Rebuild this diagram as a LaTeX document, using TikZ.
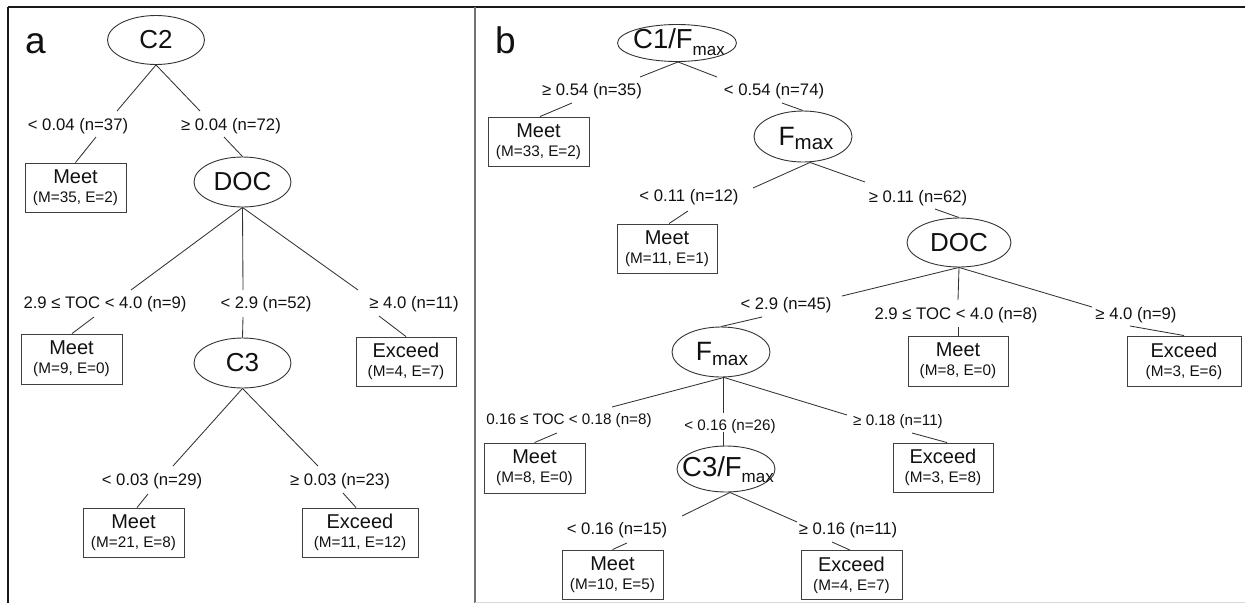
\documentclass[tikz,border=0pt]{standalone}
\usepackage{fontspec}
\setmainfont{Liberation Sans}
\usetikzlibrary{shapes.geometric,calc}
\definecolor{ink}{HTML}{111111}
\tikzset{
  ell/.style={draw=black!80, line width=0.9pt, ellipse, inner sep=0pt},
  etxt/.style={inner sep=0pt, text=ink, font=\fontsize{26}{28}\selectfont},
  leaf/.style={draw=black!75, line width=0.9pt, rectangle, inner sep=0pt, align=center, text=ink, font=\fontsize{20}{19}\selectfont},
  lab/.style={inner sep=0pt, text=ink, font=\fontsize{16.7}{18}\selectfont},
  labs/.style={inner sep=0pt, text=ink, font=\fontsize{15.2}{17}\selectfont},
  conn/.style={draw=black!80, line width=0.85pt},
  panel/.style={inner sep=0pt, text=ink, font=\fontsize{37}{40}\selectfont, anchor=base west},
}
\newcommand{\cnt}[1]{{\fontsize{15.3}{19}\selectfont #1}}
\begin{document}
\begin{tikzpicture}[x=1pt,y=-1pt]
\useasboundingbox (0,0) rectangle (1245,603);
% frame
\draw[black!90, line width=1.4pt] (8,7) -- (1245,7);
\draw[black!90, line width=1.4pt] (8,7) -- (8,603);
\draw[black!55, line width=1.2pt] (475,7) -- (475,603);
\draw[black!15, line width=0.8pt] (475,602) -- (1245,602);

% ===== panel a =====
\node[panel] (pa) at (25,53) {a};
\node[ell, minimum width=97pt, minimum height=49pt] (C2) at (156,40) {};
\node[etxt] (C2t) at (C2) {C2};
\node[ell, minimum width=97pt, minimum height=50pt] (DOCa) at (242.5,182) {};
\node[etxt] (DOCat) at (DOCa) {DOC};
\node[ell, minimum width=97pt, minimum height=50pt] (C3) at (242.5,363) {};
\node[etxt] (C3t) at (C3) {C3};

\node[lab] (la1) at (78,126) {< 0.04 (n=37)};
\node[lab] (la2) at (231,126) {≥ 0.04 (n=72)};
\node[lab] (la3) at (105,304) {2.9 ≤ TOC < 4.0 (n=9)};
\node[lab] (la4) at (266,304) {< 2.9 (n=52)};
\node[lab] (la5) at (414,304) {≥ 4.0 (n=11)};
\node[lab] (la6) at (152,481) {< 0.03 (n=29)};
\node[lab] (la7) at (340,481) {≥ 0.03 (n=23)};

\node[leaf, minimum width=101pt, minimum height=49pt] (A1) at (75.5,187.5) {Meet\\\cnt{(M=35, E=2)}};
\node[leaf, minimum width=101pt, minimum height=50pt] (A2) at (71.5,359) {Meet\\\cnt{(M=9, E=0)}};
\node[leaf, minimum width=100pt, minimum height=49pt] (A3) at (406,361.5) {Exceed\\\cnt{(M=4, E=7)}};
\node[leaf, minimum width=101pt, minimum height=49pt] (A4) at (133.5,532.5) {Meet\\\cnt{(M=21, E=8)}};
\node[leaf, minimum width=116pt, minimum height=49pt] (A5) at (360,532.5) {Exceed\\\cnt{(M=11, E=12)}};

\coordinate (a1u) at (117,111); \coordinate (a1d) at (96,137);
\coordinate (a2u) at (200,111); \coordinate (a2d) at (224,137);
\coordinate (a3u) at (131,290); \coordinate (a3d) at (94,317);
\coordinate (a4u) at (243,290); \coordinate (a4d) at (243,317);
\coordinate (a5u) at (358,290); \coordinate (a5d) at (379,316);
\coordinate (a6u) at (173,466); \coordinate (a6d) at (148,494);
\coordinate (a7u) at (318,466); \coordinate (a7d) at (343,493);

\draw[conn] (C2.south) -- (a1u);  \draw[conn] (a1d) -- (A1.north);
\draw[conn] (C2.south) -- (a2u);  \draw[conn] (a2d) -- (DOCa.north);
\draw[conn] (DOCa.south) -- (a3u); \draw[conn] (a3d) -- ([xshift=0.5pt]A2.north);
\draw[conn] (DOCa.south) -- (a4u); \draw[conn] (a4d) -- (C3.north);
\draw[conn] (DOCa.south) -- (a5u); \draw[conn] (a5d) -- (A3.north);
\draw[conn] (C3.south) -- (a6u);   \draw[conn] (a6d) -- ([xshift=3.5pt]A4.north);
\draw[conn] (C3.south) -- (a7u);   \draw[conn] (a7d) -- ([xshift=-4pt]A5.north);

% ===== panel b =====
\node[panel] (pb) at (495,53) {b};
\node[ell, minimum width=119pt, minimum height=37pt] (C1F) at (677,43) {};
\node[inner sep=0pt, text=ink, font=\fontsize{27.5}{28}\selectfont] (C1Ft) at (679,42) {C1/F{\fontsize{17}{17}\selectfont\raisebox{-7pt}{max}}};
\node[ell, minimum width=98pt, minimum height=51pt] (F1) at (803,136.5) {};
\node[inner sep=0pt, text=ink, font=\fontsize{26.5}{28}\selectfont] (F1t) at (806,138) {F{\fontsize{20.5}{20}\selectfont\raisebox{-4pt}{max}}};
\node[ell, minimum width=104pt, minimum height=49pt] (DOCb) at (959,242.5) {};
\node[etxt] (DOCbt) at (DOCb) {DOC};
\node[ell, minimum width=98pt, minimum height=50pt] (F2) at (721,352) {};
\node[inner sep=0pt, text=ink, font=\fontsize{26.5}{28}\selectfont] (F2t) at (722,354) {F{\fontsize{19}{19}\selectfont\raisebox{-5pt}{max}}};
\node[ell, minimum width=98pt, minimum height=46pt] (C3F) at (726,469) {};
\node[inner sep=0pt, text=ink, font=\fontsize{27.5}{28}\selectfont] (C3Ft) at (728,470) {C3/F{\fontsize{17}{17}\selectfont\raisebox{-6pt}{max}}};

\node[lab] (lb1) at (592,91) {≥ 0.54 (n=35)};
\node[lab] (lb2) at (774,91) {< 0.54 (n=74)};
\node[lab] (lb3) at (689,197) {< 0.11 (n=12)};
\node[lab] (lb4) at (918,198) {≥ 0.11 (n=62)};
\node[lab] (lb5) at (786,305) {< 2.9 (n=45)};
\node[lab] (lb6) at (956,315) {2.9 ≤ TOC < 4.0 (n=8)};
\node[lab] (lb7) at (1136,315) {≥ 4.0 (n=9)};
\node[labs] (lb8) at (569,421) {0.16 ≤ TOC < 0.18 (n=8)};
\node[labs] (lb9) at (730,427) {< 0.16 (n=26)};
\node[labs] (lb10) at (898,422) {≥ 0.18 (n=11)};
\node[lab] (lb11) at (617,530) {< 0.16 (n=15)};
\node[lab] (lb12) at (848,530) {≥ 0.16 (n=11)};

\node[leaf, minimum width=101pt, minimum height=49pt] (B1) at (538.5,141.5) {Meet\\\cnt{(M=33, E=2)}};
\node[leaf, minimum width=100pt, minimum height=49pt] (B2) at (667,248.5) {Meet\\\cnt{(M=11, E=1)}};
\node[leaf, minimum width=100pt, minimum height=50pt] (B3) at (958,361) {Meet\\\cnt{(M=8, E=0)}};
\node[leaf, minimum width=114pt, minimum height=50pt] (B4) at (1184,361) {Exceed\\\cnt{(M=3, E=6)}};
\node[leaf, minimum width=101pt, minimum height=50pt] (B5) at (534.5,468) {Meet\\\cnt{(M=8, E=0)}};
\node[leaf, minimum width=100pt, minimum height=49pt] (B6) at (943,467.5) {Exceed\\\cnt{(M=3, E=8)}};
\node[leaf, minimum width=101pt, minimum height=49pt] (B7) at (612.5,574.5) {Meet\\\cnt{(M=10, E=5)}};
\node[leaf, minimum width=101pt, minimum height=49pt] (B8) at (851.5,575) {Exceed\\\cnt{(M=4, E=7)}};

\coordinate (b1u) at (640,77);  \coordinate (b1d) at (572,103);
\coordinate (b2u) at (717,77);  \coordinate (b2d) at (782,103);
\coordinate (b3u) at (753,188); \coordinate (b3d) at (688,211);
\coordinate (b4u) at (865,182); \coordinate (b4d) at (935,209);
\coordinate (b5u) at (842,296); \coordinate (b5d) at (762,317);
\coordinate (b6u) at (958,300); \coordinate (b6d) at (958,327);
\coordinate (b7u) at (1092,307); \coordinate (b7d) at (1130,326);
\coordinate (b8u) at (612,407); \coordinate (b8d) at (557,433);
\coordinate (b9u) at (723,413); \coordinate (b9d) at (723,432);
\coordinate (b10u) at (847,415); \coordinate (b10d) at (912,433);
\coordinate (b11u) at (682,516); \coordinate (b11d) at (627,543);
\coordinate (b12u) at (797,522); \coordinate (b12d) at (832,542);

\draw[conn] ([xshift=1pt]C1F.south) -- (b1u);  \draw[conn] (b1d) -- ([xshift=1.5pt]B1.north);
\draw[conn] ([xshift=1pt]C1F.south) -- (b2u);  \draw[conn] (b2d) -- (F1.north);
\draw[conn] ([xshift=7pt]F1.south) -- (b3u);   \draw[conn] (b3d) -- ([xshift=2pt]B2.north);
\draw[conn] ([xshift=7pt]F1.south) -- (b4u);   \draw[conn] (b4d) -- (DOCb.north);
\draw[conn] (DOCb.south) -- (b5u);  \draw[conn] (b5d) -- (F2.north);
\draw[conn] (DOCb.south) -- (b6u);  \draw[conn] (b6d) -- (B3.north);
\draw[conn] (DOCb.south) -- (b7u);  \draw[conn] (b7d) -- (B4.north);
\draw[conn] ([xshift=3pt]F2.south) -- (b8u);   \draw[conn] (b8d) -- (B5.north);
\draw[conn] ([xshift=2pt]F2.south) -- (b9u);   \draw[conn] (b9d) -- ([xshift=-3pt]C3F.north);
\draw[conn] ([xshift=3pt]F2.south) -- (b10u);  \draw[conn] (b10d) -- ([xshift=4pt]B6.north);
\draw[conn] ([xshift=4pt]C3F.south) -- (b11u); \draw[conn] (b11d) -- (B7.north);
\draw[conn] ([xshift=4pt]C3F.south) -- (b12u); \draw[conn] (b12d) -- ([xshift=-1.5pt]B8.north);
\end{tikzpicture}
\end{document}
